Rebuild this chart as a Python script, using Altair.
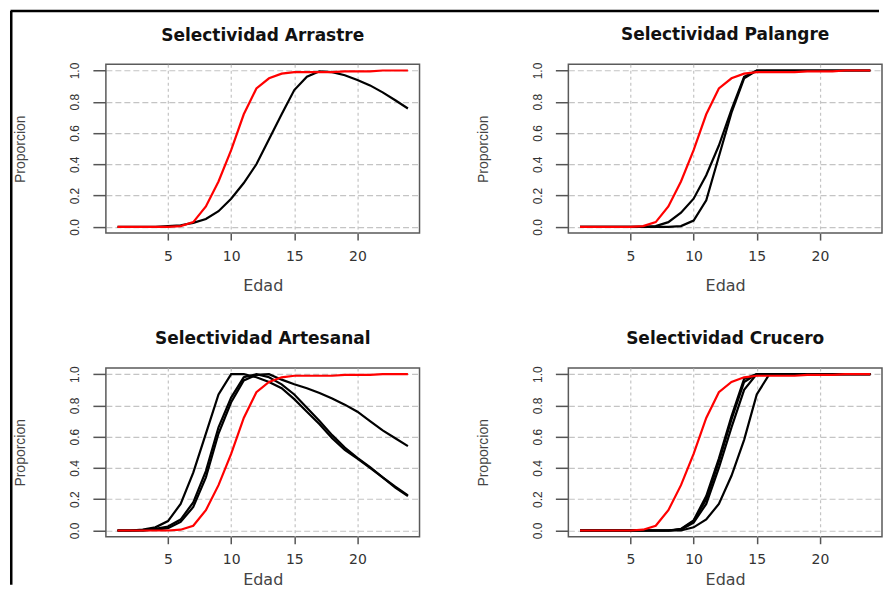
import altair as alt
import pandas as pd

# Edades (eje x) y ojiva de madurez (linea roja, igual en los cuatro paneles)
edad = list(range(1, 25))
madurez = [0, 0, 0, 0, 0, 0.005, 0.03, 0.13, 0.29, 0.49, 0.72, 0.885,
           0.95, 0.98, 0.99, 0.99, 0.99, 0.99, 0.995, 0.995, 0.995, 1.0, 1.0, 1.0]

# Curvas de selectividad (lineas negras)
arrastre = [0, 0, 0, 0, 0.005, 0.01, 0.025, 0.05, 0.1, 0.18, 0.28, 0.4,
            0.56, 0.72, 0.875, 0.96, 0.995, 0.99, 0.97, 0.94, 0.905, 0.86, 0.81, 0.757]

palangre_1 = [0, 0, 0, 0, 0, 0, 0.005, 0.03, 0.09, 0.18, 0.33, 0.52,
              0.75, 0.96, 1.0, 1.0, 1.0, 1.0, 1.0, 1.0, 1.0, 1.0, 1.0, 1.0]
palangre_2 = [0, 0, 0, 0, 0, 0, 0, 0, 0.005, 0.04, 0.17, 0.45,
              0.73, 0.95, 1.0, 1.0, 1.0, 1.0, 1.0, 1.0, 1.0, 1.0, 1.0, 1.0]

artesanal_1 = [0, 0, 0.005, 0.02, 0.06, 0.17, 0.37, 0.62, 0.87, 1.0, 1.0, 0.98,
               0.95, 0.91, 0.84, 0.76, 0.68, 0.59, 0.515, 0.46, 0.4, 0.34, 0.275, 0.22]
artesanal_2 = [0, 0, 0, 0.01, 0.025, 0.07, 0.18, 0.38, 0.66, 0.85, 0.98, 1.0,
               0.98, 0.935, 0.87, 0.785, 0.7, 0.61, 0.53, 0.465, 0.405, 0.34, 0.28, 0.225]
artesanal_3 = [0, 0, 0, 0.005, 0.015, 0.055, 0.15, 0.34, 0.62, 0.82, 0.96, 0.995,
               1.0, 0.965, 0.935, 0.91, 0.88, 0.845, 0.805, 0.76, 0.7, 0.64, 0.59, 0.54]

crucero_1 = [0, 0, 0, 0, 0, 0, 0, 0, 0.01, 0.065, 0.22, 0.46,
             0.73, 0.97, 1.0, 1.0, 1.0, 1.0, 1.0, 1.0, 1.0, 1.0, 1.0, 1.0]
crucero_2 = [0, 0, 0, 0, 0, 0, 0, 0, 0.008, 0.06, 0.2, 0.44,
             0.71, 0.95, 1.0, 1.0, 1.0, 1.0, 1.0, 1.0, 1.0, 1.0, 1.0, 1.0]
crucero_3 = [0, 0, 0, 0, 0, 0, 0, 0, 0.005, 0.05, 0.17, 0.4,
             0.66, 0.9, 1.0, 1.0, 1.0, 1.0, 1.0, 1.0, 1.0, 1.0, 1.0, 1.0]
crucero_4 = [0, 0, 0, 0, 0, 0, 0, 0, 0, 0.02, 0.07, 0.17,
             0.35, 0.58, 0.87, 1.0, 1.0, 1.0, 1.0, 1.0, 1.0, 1.0, 1.0, 1.0]

ticks_x = [5, 10, 15, 20]
ticks_y = [0.0, 0.2, 0.4, 0.6, 0.8, 1.0]


def tabla(curvas):
    filas = []
    for i, curva in enumerate(curvas):
        for e, v in zip(edad, curva):
            filas.append({"edad": e, "valor": v, "serie": "s%d" % i})
    return pd.DataFrame(filas)


def panel(titulo, curvas, fila_inferior=False, marco=False):
    x = alt.X("edad:Q",
              scale=alt.Scale(domain=[0.08, 24.92], nice=False, zero=False),
              axis=alt.Axis(values=ticks_x, title="Edad", tickSize=7,
                            labelPadding=9, titlePadding=5 if fila_inferior else 14,
                            labelFont="DejaVu Sans", labelFontSize=14,
                            titleFont="DejaVu Sans", titleFontSize=16,
                            titleFontWeight="normal", gridDash=[3, 3]))
    y = alt.Y("valor:Q",
              scale=alt.Scale(domain=[-0.04, 1.04], nice=False, zero=False),
              axis=alt.Axis(values=ticks_y, format=".1f", title="Proporcion",
                            labelAngle=270, labelAlign="center", labelBaseline="bottom",
                            tickSize=13, labelPadding=11, titlePadding=41,
                            labelFont="Liberation Sans", labelFontSize=12,
                            titleFont="Liberation Sans", titleFontSize=14,
                            titleFontWeight="normal", gridDash=[6, 3]))

    negras = alt.Chart(tabla(curvas)).mark_line(color="black", strokeWidth=2.2).encode(
        x=x, y=y, detail="serie:N")
    roja = alt.Chart(pd.DataFrame({"edad": edad, "valor": madurez})).mark_line(
        color="#ff0000", strokeWidth=2.2).encode(x=x, y=y)
    capas = [negras, roja]
    desplaz = 5

    if marco:
        # borde negro del recorte original (izquierda y arriba)
        base = alt.Chart(pd.DataFrame({"marco": [0]}))
        capas.append(base.mark_rule(color="black", strokeWidth=2.5).encode(
            x=alt.value(-94.75), y=alt.value(-53.25), y2=alt.value(521)))
        capas.append(base.mark_rule(color="black", strokeWidth=2.5).encode(
            x=alt.value(-95.5), x2=alt.value(774), y=alt.value(-53.25)))
        desplaz = -48.5

    return alt.layer(*capas).properties(
        width=314, height=169,
        title=alt.TitleParams(titulo, font="DejaVu Sans", fontSize=17, fontWeight="bold",
                              color="#111111", anchor="middle", frame="group",
                              baseline="alphabetic", offset=desplaz))


chart = alt.concat(
    panel("Selectividad Arrastre", [arrastre], marco=True),
    panel("Selectividad Palangre", [palangre_1, palangre_2]),
    panel("Selectividad Artesanal", [artesanal_1, artesanal_2, artesanal_3], fila_inferior=True),
    panel("Selectividad Crucero", [crucero_1, crucero_2, crucero_3, crucero_4], fila_inferior=True),
    columns=2, spacing={"row": 135, "column": 149}, bounds="flush"
).properties(
    padding={"left": 0, "top": 0, "right": 0, "bottom": 0},
    background="white"
).configure_view(
    stroke="#5a5a5a", strokeWidth=1.5
).configure_axis(
    domain=False, grid=True, gridColor="#c4c4c4", gridWidth=1.2,
    tickColor="#555555", tickWidth=1.5,
    labelColor="#333333", titleColor="#444444"
)

chart.save("out.html", embed_options={"renderer": "svg", "actions": False})
